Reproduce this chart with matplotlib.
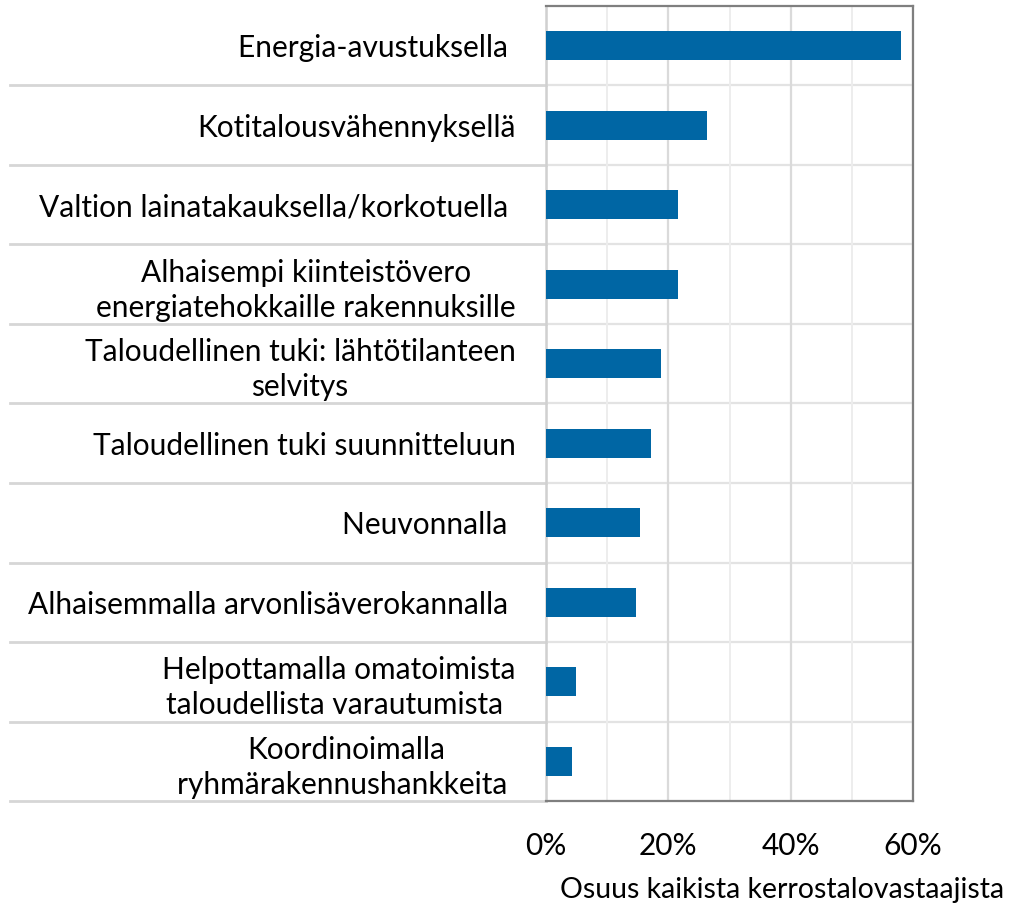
import matplotlib
matplotlib.use('Agg')
import matplotlib.pyplot as plt
import matplotlib.transforms as mtransforms
import numpy as np

plt.rcParams['font.family'] = ['Lato', 'DejaVu Sans']

# categories (top to bottom) and share of respondents (%)
categories = [
	'Energia-avustuksella ',
	'Kotitalousvähennyksellä',
	'Valtion lainatakauksella/korkotuella ',
	'Alhaisempi kiinteistövero\nenergiatehokkaille rakennuksille',
	'Taloudellinen tuki: lähtötilanteen\nselvitys',
	'Taloudellinen tuki suunnitteluun',
	'Neuvonnalla ',
	'Alhaisemmalla arvonlisäverokannalla ',
	'Helpottamalla omatoimista\ntaloudellista varautumista ',
	'Koordinoimalla\nryhmärakennushankkeita ',
]
shares = [58.0, 26.3, 21.5, 21.6, 18.8, 17.2, 15.4, 14.7, 4.9, 4.2]
xticks = [0, 20, 40, 60]
xtick_labels = ['0%', '20%', '40%', '60%']
xlabel = 'Osuus kaikista kerrostalovastaajista'

fs = 21.5

fig = plt.figure(figsize=(10.09, 9.06), dpi=100)
ax = fig.add_axes([546/1009, 1-801/906, 367/1009, 795/906])

y = np.arange(len(categories))
ax.barh(y, shares, height=0.36, color='#0066A4', zorder=3)

ax.set_xlim(0, 60)
ax.set_ylim(len(categories)-0.5, -0.5)

#gridlines
ax.set_xticks(xticks)
ax.set_xticklabels(xtick_labels, fontsize=fs)
ax.set_xticks([10, 30, 50], minor=True)
ax.grid(True, axis='x', which='major', color='#dadada', linewidth=1.6, zorder=0)
ax.grid(True, axis='x', which='minor', color='#ededed', linewidth=1.4, zorder=0)
for b in np.arange(0.5, len(categories)-0.5, 1):
	ax.axhline(b, color='#e3e3e3', linewidth=1.6, zorder=1)

ax.set_yticks(y)
ax.set_yticklabels(categories, fontsize=fs, multialignment='center', linespacing=1.3)
ax.tick_params(axis='y', length=0, pad=22)
ax.tick_params(axis='x', which='both', length=0, pad=22)

#frame
for side in ['top', 'right', 'bottom']:
	ax.spines[side].set_color('#7f7f7f')
	ax.spines[side].set_linewidth(1.6)
ax.spines['left'].set_color('#d0d0d0')
ax.spines['left'].set_linewidth(1.8)

#separator lines in the label area
trans = mtransforms.blended_transform_factory(ax.transAxes, ax.transData)
for b in np.arange(0.5, len(categories), 1):
	ax.plot([-536/367, 0], [b, b], transform=trans, color='#d6d6d6',
		linewidth=2, clip_on=False, zorder=0)

fig.text(1004/1009, 1-890/906, xlabel, fontsize=20.5, ha='right', va='center')

fig.savefig('out.png', dpi=100)
